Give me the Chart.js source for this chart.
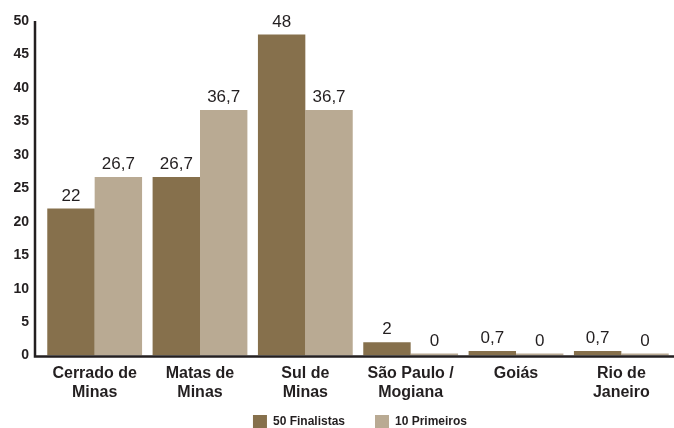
<!DOCTYPE html>
<html>
<head>
<meta charset="utf-8">
<script src="https://cdn.jsdelivr.net/npm/chart.js@4/dist/chart.umd.min.js"></script>
<style>
  html, body { margin: 0; padding: 0; background: #fff; }
  #wrap { width: 674px; height: 428px; }
</style>
</head>
<body>
<div id="wrap"><canvas id="chart" width="674" height="428"></canvas></div>
<script>
// Regions and their shares (%)
const regions = [
  ['Cerrado de', 'Minas'],
  ['Matas de', 'Minas'],
  ['Sul de', 'Minas'],
  ['São Paulo /', 'Mogiana'],
  'Goiás',
  ['Rio de', 'Janeiro'],
];
const finalistas = [22, 26.7, 48, 2, 0.7, 0.7];
const primeiros = [26.7, 36.7, 36.7, 0, 0, 0];
const yTicks = [0, 5, 10, 15, 20, 25, 30, 35, 40, 45, 50];

const darkBrown = 'rgb(134, 112, 76)';
const lightBrown = 'rgb(185, 170, 147)';
const font = '"Liberation Sans", Arial, sans-serif';

// axis lines drawn a bit left of the plot area, like the original
const axisLines = {
  id: 'axisLines',
  afterDraw(chart) {
    const { ctx, chartArea } = chart;
    const x0 = chartArea.left - 7;
    ctx.save();
    ctx.strokeStyle = '#231f20';
    ctx.lineWidth = 2.5;
    ctx.beginPath();
    ctx.moveTo(x0, chartArea.top);
    ctx.lineTo(x0, chartArea.bottom + 1);
    ctx.lineTo(chart.width, chartArea.bottom + 1);
    ctx.stroke();
    ctx.restore();
  },
};

// nudge the legend (original is not centred)
const legendShift = {
  id: 'legendShift',
  afterLayout(chart) {
    const lg = chart.legend;
    lg.left += 23;
    lg.right += 23;
    lg.top += 13;
    lg.bottom += 13;
  },
};

// value labels above each bar
const valueLabels = {
  id: 'valueLabels',
  afterDatasetsDraw(chart) {
    const { ctx } = chart;
    ctx.save();
    ctx.font = '17px ' + font;
    ctx.fillStyle = '#231f20';
    ctx.textAlign = 'center';
    ctx.textBaseline = 'bottom';
    chart.data.datasets.forEach((ds, i) => {
      chart.getDatasetMeta(i).data.forEach((bar, j) => {
        const txt = String(ds.data[j]).replace('.', ',');
        ctx.fillText(txt, bar.x, bar.y - 4);
      });
    });
    ctx.restore();
  },
};

new Chart(document.getElementById('chart'), {
  type: 'bar',
  data: {
    labels: regions,
    datasets: [
      {
        label: '50 Finalistas',
        data: finalistas,
        backgroundColor: darkBrown,
        categoryPercentage: 0.9,
        barPercentage: 1.0,
        minBarLength: 2,
      },
      {
        label: '10 Primeiros',
        data: primeiros,
        backgroundColor: lightBrown,
        categoryPercentage: 0.9,
        barPercentage: 1.0,
        minBarLength: 2,
      },
    ],
  },
  options: {
    responsive: false,
    animation: false,
    layout: { padding: { top: 21, right: 0, left: 0, bottom: 3 } },
    plugins: {
      tooltip: { enabled: false },
      legend: {
        position: 'bottom',
        labels: {
          boxWidth: 14,
          boxHeight: 13,
          padding: 0,
          color: '#231f20',
          font: { family: font, size: 12, weight: 'bold' },
          generateLabels(chart) {
            const items = Chart.defaults.plugins.legend.labels.generateLabels(chart);
            items[0].text += '         ';
            return items;
          },
        },
      },
    },
    scales: {
      x: {
        grid: { display: false },
        border: { display: false },
        ticks: {
          color: '#231f20',
          padding: 0,
          maxRotation: 0,
          font: { family: font, size: 16, weight: 'bold', lineHeight: 1.2 },
        },
      },
      y: {
        min: 0,
        max: 50,
        afterBuildTicks(axis) {
          axis.ticks = yTicks.map(v => ({ value: v }));
        },
        afterFit(axis) {
          axis.width = 42;
        },
        grid: { display: false },
        border: { display: false },
        ticks: {
          color: '#231f20',
          padding: 5,
          font: { family: font, size: 14, weight: 'bold' },
        },
      },
    },
  },
  plugins: [axisLines, legendShift, valueLabels],
});
</script>
</body>
</html>
